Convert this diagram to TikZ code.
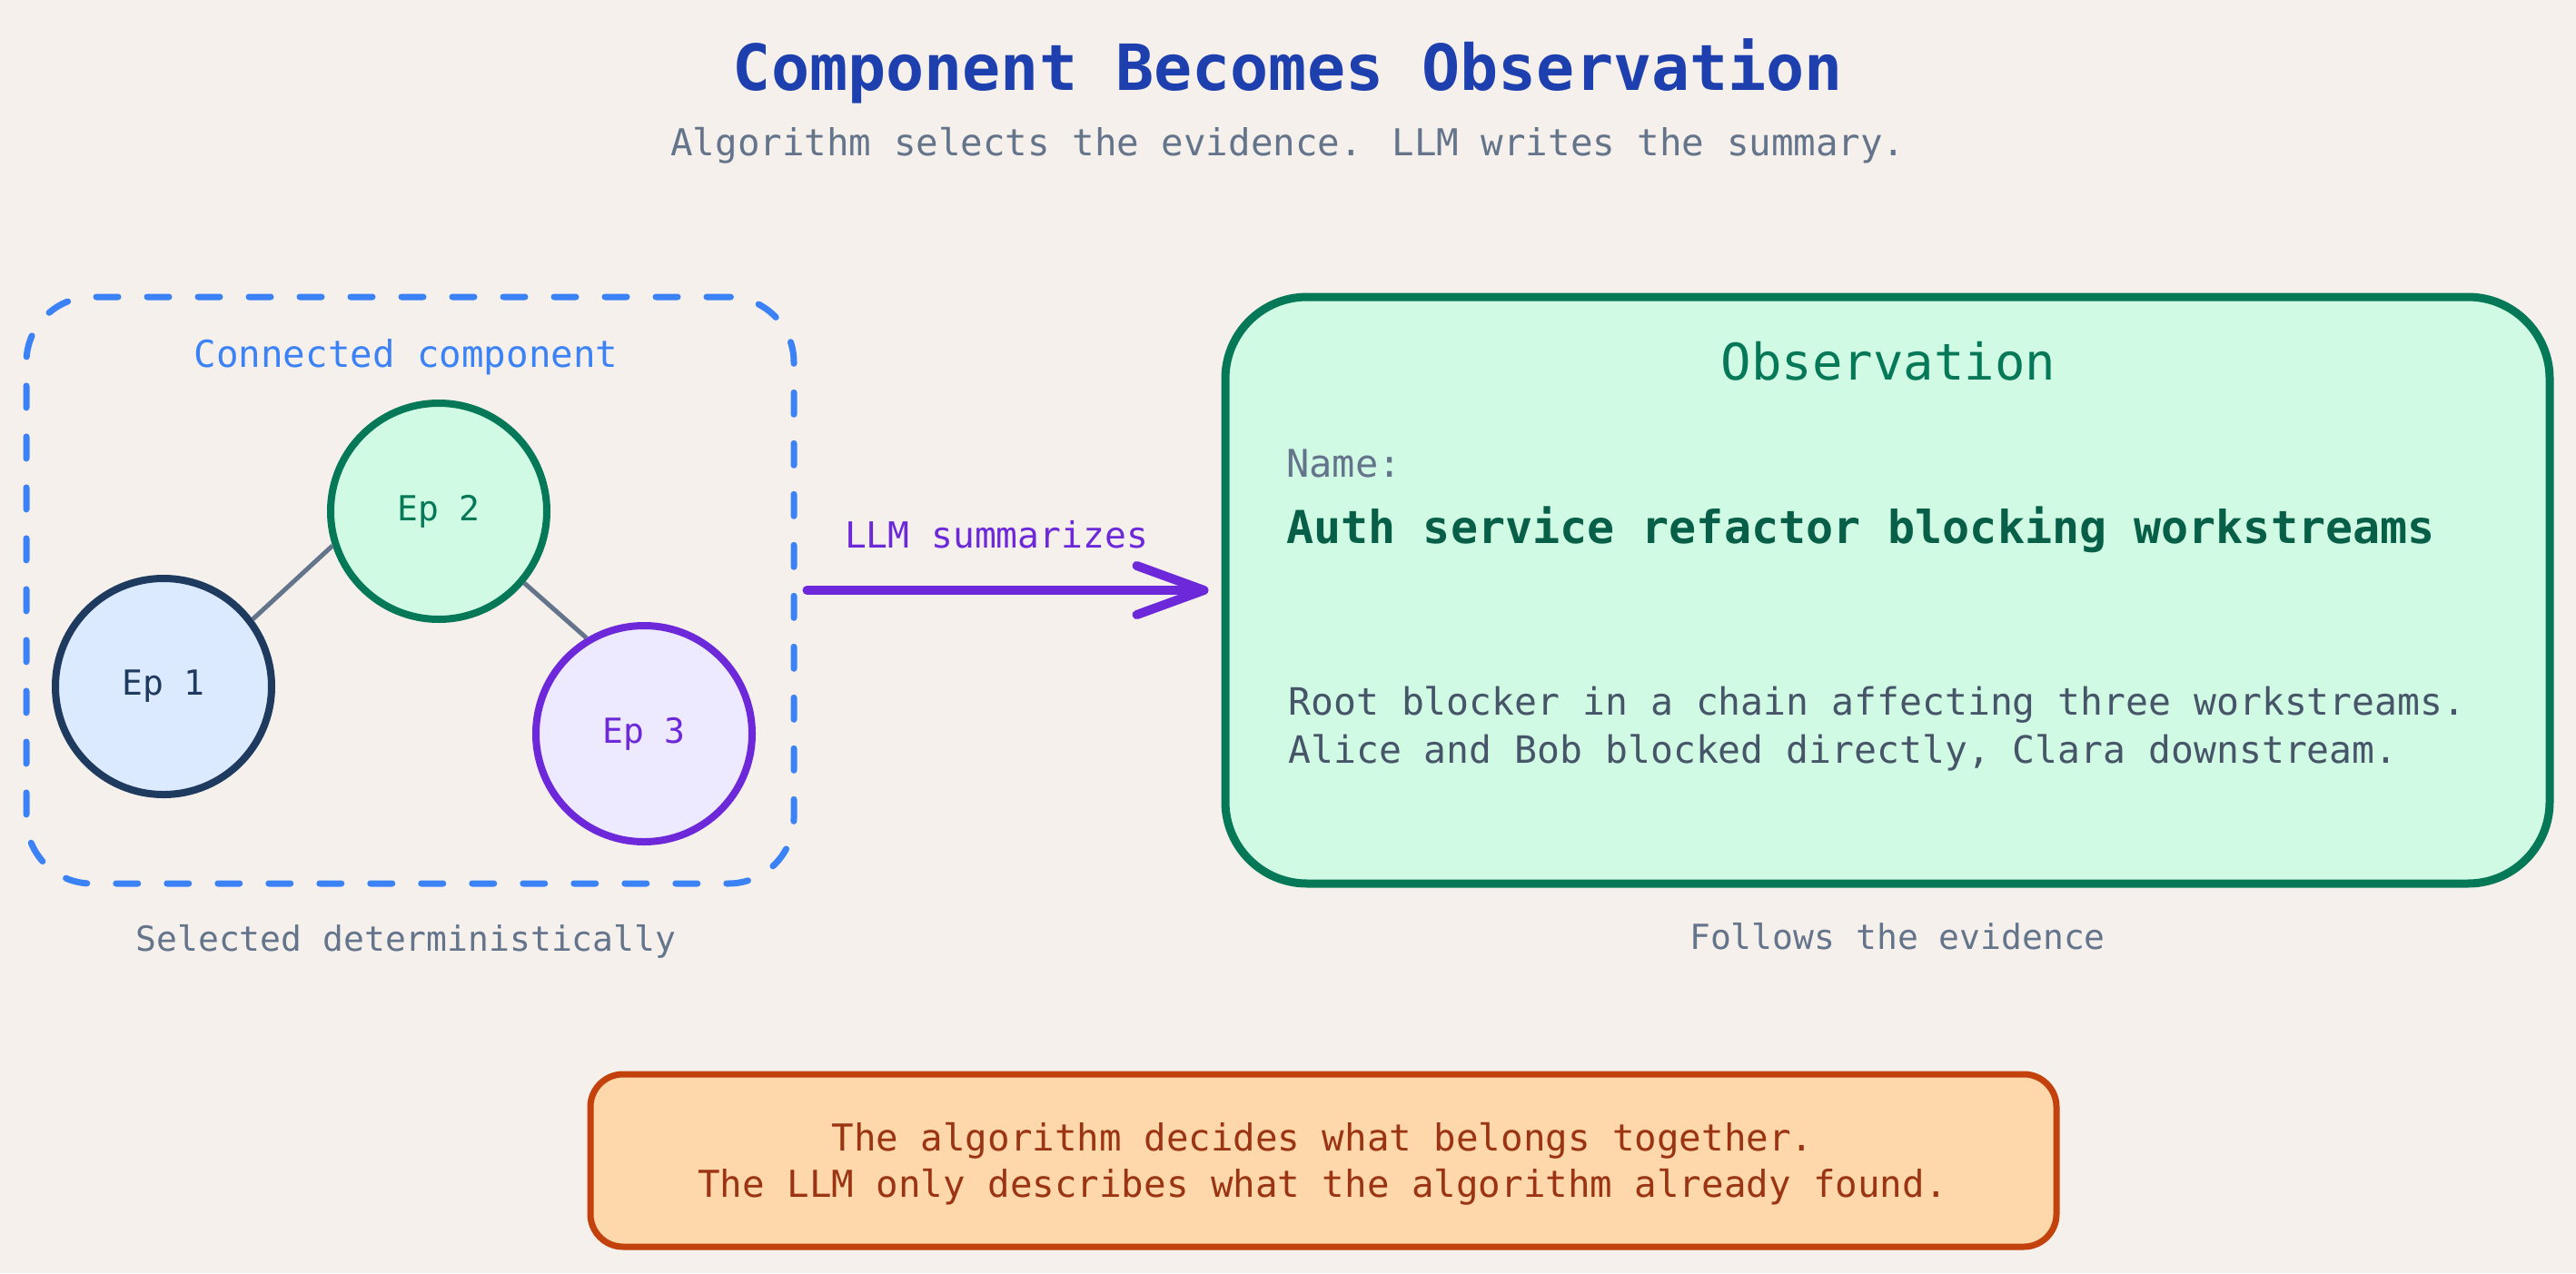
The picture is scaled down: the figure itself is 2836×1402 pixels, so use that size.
\documentclass[tikz,border=0pt]{standalone}
\usepackage{fontspec}
\setmainfont{DejaVu Sans Mono}
\usetikzlibrary{arrows.meta}
\definecolor{bg}{HTML}{F5F0EB}
\definecolor{titleblue}{HTML}{1E40AF}
\definecolor{slatec}{HTML}{64748B}
\definecolor{slated}{HTML}{475569}
\definecolor{compblue}{HTML}{3B82F6}
\definecolor{eponefill}{HTML}{DBEAFE}
\definecolor{eponeline}{HTML}{1E3A5F}
\definecolor{greenfill}{HTML}{D1FAE5}
\definecolor{greenline}{HTML}{047857}
\definecolor{greendark}{HTML}{065F46}
\definecolor{purplefill}{HTML}{EDE9FE}
\definecolor{purpleline}{HTML}{6D28D9}
\definecolor{orangefill}{HTML}{FED7AA}
\definecolor{orangeline}{HTML}{C2410C}
\definecolor{orangetext}{HTML}{9A3412}
\tikzset{
  epnode/.style={circle, minimum size=119pt, inner sep=0pt, line width=4pt, font=\fontsize{19}{23}\selectfont},
  edgeline/.style={draw=slatec, line width=2.5pt},
  txt/.style={inner sep=0pt, anchor=base},
  ltxt/.style={inner sep=0pt, anchor=base west},
}
\begin{document}
\begin{tikzpicture}[x=0.5pt,y=-0.5pt]
\useasboundingbox (0,0) rectangle (2836,1402);
\fill[bg] (0,0) rectangle (2836,1402);

% title
\node[txt, text=titleblue, font=\fontsize{35}{42}\selectfont\bfseries] (title) at (1418,100) {Component Becomes Observation};
\node[txt, text=slatec, font=\fontsize{20.4}{25}\selectfont] (subtitle) at (1418,171) {Algorithm selects the evidence. LLM writes the summary.};

% component box
\node[draw=compblue, line width=3.5pt, dash pattern=on 12pt off 16pt, line cap=round, rounded corners=36pt,
      minimum width=422.5pt, minimum height=323pt, inner sep=0pt] (comp) at (451.5,650) {};
\node[txt, text=compblue, font=\fontsize{20.4}{25}\selectfont] (comptitle) at (447,404) {Connected component};

\node[epnode, draw=eponeline, fill=eponefill, text=eponeline] (ep1) at (180,756) {Ep 1};
\node[epnode, draw=greenline, fill=greenfill, text=greenline] (ep2) at (483,563) {Ep 2};
\node[epnode, draw=purpleline, fill=purplefill, text=purpleline] (ep3) at (709,808) {Ep 3};
\draw[edgeline] (ep1.37) -- (ep2.198);
\draw[edgeline] (ep2.320) -- (ep3.121);

\node[txt, text=slatec, font=\fontsize{19}{23}\selectfont] (capleft) at (447,1047) {Selected deterministically};

% observation box
\node[draw=greenline, fill=greenfill, line width=4.5pt, rounded corners=45pt,
      minimum width=729pt, minimum height=323pt, inner sep=0pt] (obs) at (2078,650) {};
\node[txt, text=greenline, font=\fontsize{27.8}{33}\selectfont] (obstitle) at (2079,418) {Observation};
\node[ltxt, text=slatec, font=\fontsize{21}{25}\selectfont] (namelbl) at (1416,525) {Name:};
\node[ltxt, text=greendark, font=\fontsize{25}{30}\selectfont\bfseries] (name) at (1416,598) {Auth service refactor blocking workstreams};
\node[ltxt, text=slated, font=\fontsize{20.7}{25}\selectfont] (body1) at (1418,787) {Root blocker in a chain affecting three workstreams.};
\node[ltxt, text=slated, font=\fontsize{20.7}{25}\selectfont] (body2) at (1418,840) {Alice and Bob blocked directly, Clara downstream.};
\node[txt, text=slatec, font=\fontsize{19}{23}\selectfont] (capright) at (2089,1045) {Follows the evidence};

% arrow
\draw[draw=purpleline, line width=5pt, line cap=round, -{Straight Barb[length=37pt, width=27pt, round]}]
  ([xshift=5.5pt]comp.east) -- ([xshift=-7pt]obs.west);
\node[txt, text=purpleline, font=\fontsize{19.8}{24}\selectfont] (arrlbl) at (1097,603) {LLM summarizes};

% bottom box
\node[draw=orangeline, fill=orangefill, line width=3.5pt, rounded corners=18pt,
      minimum width=807pt, minimum height=95pt, inner sep=0pt] (note) at (1457,1278) {};
\node[txt, text=orangetext, font=\fontsize{20.4}{25}\selectfont] (note1) at (1456,1267) {The algorithm decides what belongs together.};
\node[txt, text=orangetext, font=\fontsize{20.4}{25}\selectfont] (note2) at (1456,1318) {The LLM only describes what the algorithm already found.};
\end{tikzpicture}
\end{document}
